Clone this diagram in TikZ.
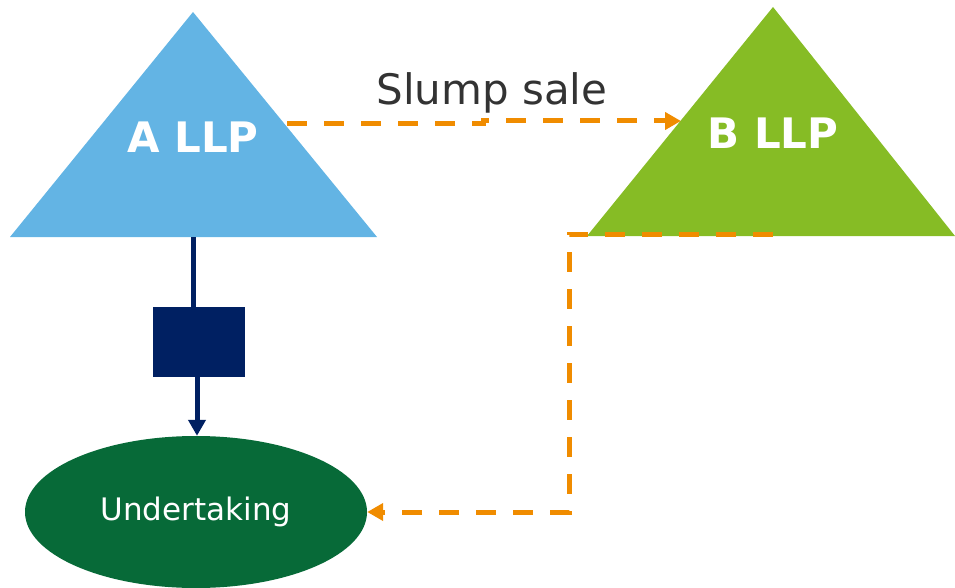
\documentclass[tikz,border=0pt]{standalone}
\usepackage{fontspec}
\setmainfont{DejaVu Sans}
\usetikzlibrary{arrows.meta,shapes.geometric}
\definecolor{llpblue}{RGB}{99,180,228}
\definecolor{llpgreen}{RGB}{134,188,37}
\definecolor{flow}{RGB}{240,140,0}
\definecolor{navy}{RGB}{0,32,98}
\definecolor{undgreen}{RGB}{7,106,56}
\definecolor{labelgray}{RGB}{51,51,51}
\tikzset{
  llplabel/.style={text=white,font=\bfseries\fontsize{42}{48}\selectfont,inner sep=0pt},
  flowline/.style={draw=flow,line width=5pt,dash pattern=on 20pt off 17pt,
    -{Triangle[length=16pt,width=17pt]}},
  ownline/.style={draw=navy,line width=5pt},
}
\begin{document}
\begin{tikzpicture}[x=1pt,y=-1pt]
\useasboundingbox (0,0) rectangle (955,588);
% the two LLPs
\fill[llpblue] (193,12) -- (377,237) -- (10,237) -- cycle;
\fill[llpgreen] (773,7) -- (955,236) -- (587,236) -- cycle;
\node[llplabel] (a) at (193,137) {A LLP};
\node[llplabel] (b) at (773,133) {B LLP};
\node[text=labelgray,font=\fontsize{42}{48}\selectfont,inner sep=0pt] (slump) at (492,93) {Slump sale};
% the undertaking
\node[ellipse,fill=undgreen,minimum width=342pt,minimum height=152pt,inner sep=0pt,
  text=white,font=\fontsize{31}{36}\selectfont] (und) at (196,512) {Undertaking};
% ownership link from A LLP to the undertaking
\coordinate (abase) at (193,237);
\node[fill=navy,minimum width=92pt,minimum height=70pt,inner sep=0pt] (box) at (199,342) {};
\draw[ownline] (abase) -- (abase |- box.north);
\draw[ownline,-{Triangle[length=16pt,width=17pt]}] (197,377) -- (und.north -| 197,0);
% slump sale transfer
\coordinate (aright) at (287,124);
\coordinate (step) at (483,124);
\coordinate (btip) at (681,121);
\draw[flowline] (aright) -- (step) -- (step |- btip) -- (btip);
% undertaking passed back to B LLP
\coordinate (bbase) at (773,234);
\coordinate (turn) at (569,234);
\draw[flowline] (bbase) -- (turn) -- (turn |- und.east) -- (und.east);
\end{tikzpicture}
\end{document}
